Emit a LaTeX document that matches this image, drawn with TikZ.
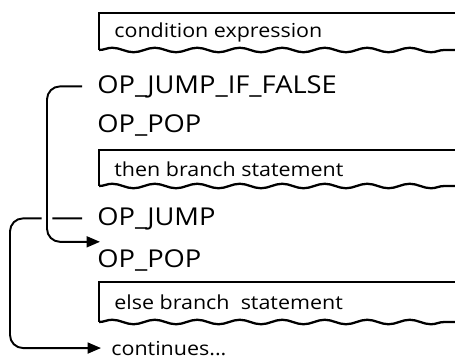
\documentclass[tikz,border=0pt]{standalone}
\usepackage{fontspec}
\setmainfont{Open Sans}
\newfontfamily\handfont[FakeStretch=1.11]{Open Sans}
\usetikzlibrary{arrows.meta,decorations.pathmorphing}

\begin{document}
\begin{tikzpicture}[
		x=0.02cm, y=-0.02cm,
		% Opcode lines between the boxes
		opcode/.style={anchor=base west, inner sep=0pt, font=\handfont\fontsize{14}{16}\selectfont},
		% Text inside the code boxes
		boxtext/.style={anchor=base west, inner sep=0pt, font=\handfont\fontsize{11}{13}\selectfont},
		% Box outlines
		boxline/.style={line width=0.9pt},
		wavyline/.style={line width=1.3pt, decorate, decoration={snake, segment length=0.85cm, amplitude=0.045cm}},
		% Jump connectors
		jumpline/.style={line width=1.1pt, rounded corners=0.26cm, -{Triangle[length=0.27cm,width=0.22cm]}}
		]
		\useasboundingbox (0,0) rectangle (455,358);
		
		% =========================================================================
		% CODE BOXES (open on the right)
		% =========================================================================
		\draw[boxline] (455,13) -- (99,13) -- (99,50);
		\draw[wavyline] (99,50) -- (455,50);
		
		\draw[boxline] (455,150) -- (99,150) -- (99,186);
		\draw[wavyline] (99,186) -- (455,186);
		
		\draw[boxline] (455,282) -- (99,282) -- (99,322);
		\draw[wavyline] (99,322) -- (455,322);
		
		% =========================================================================
		% TEXT LINES
		% =========================================================================
		\node[boxtext] (cond) at (114,38) {condition expression};
		\node[opcode] (jif) at (97,93) {OP\_JUMP\_IF\_FALSE};
		\node[opcode] (pop1) at (97,132) {OP\_POP};
		\node[boxtext] (thenb) at (114,176) {then branch statement};
		\node[opcode] (jmp) at (97,225) {OP\_JUMP};
		\node[opcode] (pop2) at (97,267) {OP\_POP};
		\node[boxtext] (elseb) at (114,309) {else branch\ \ statement};
		\node[boxtext] (cont) at (111,355) {continues...};
		
		% =========================================================================
		% JUMP CONNECTORS
		% =========================================================================
		\coordinate (lane1) at (47,0);
		\coordinate (lane2) at (10,0);
		\coordinate (jifout) at ([xshift=-0.3cm]jif.west);
		\coordinate (jmpout) at ([xshift=-0.3cm]jmp.west);
		\coordinate (pop2in) at ([shift={(0.06cm,0.14cm)}]pop2.north west);
		\coordinate (contin) at ([xshift=-0.2cm]cont.west);
		
		\draw[jumpline] (jmpout) -| (lane2 |- contin) -- (contin);
		\draw[jumpline, preaction={draw, white, line width=6pt, arrows=-}] (jifout) -| (lane1 |- pop2in) -- (pop2in);
		
	\end{tikzpicture}
\end{document}
